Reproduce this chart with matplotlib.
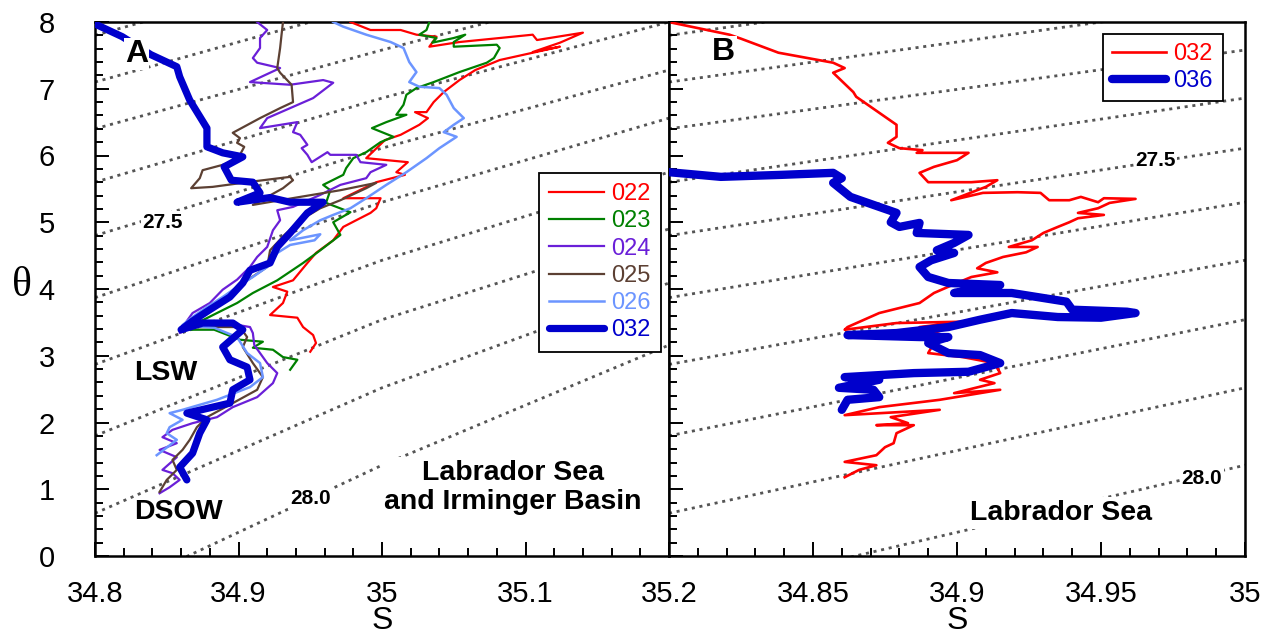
import numpy as np
import matplotlib.pyplot as plt
from matplotlib.ticker import MultipleLocator

# theta-S profiles
# panel A: Labrador Sea and Irminger Basin
s_022 = [34.978, 34.992, 35.013, 35.024, 35.038, 35.033, 35.054, 35.082, 35.105, 35.108, 35.140, 35.124,
         35.105, 35.124, 35.082, 35.065, 35.054, 35.043, 35.036, 35.031, 35.023, 35.032, 35.026, 35.013,
         35.002, 34.989, 35.018, 35.010, 35.016, 34.996, 34.973, 34.999, 34.996, 34.992, 34.982, 34.973,
         34.966, 34.954, 34.948, 34.938, 34.924, 34.934, 34.931, 34.922, 34.941, 34.945, 34.952, 34.954, 34.950]
t_022 = [8.00, 7.88, 7.88, 7.81, 7.78, 7.63, 7.70, 7.76, 7.81, 7.73, 7.84, 7.69,
         7.55, 7.63, 7.43, 7.28, 7.13, 6.95, 6.80, 6.65, 6.65, 6.56, 6.46, 6.31,
         6.23, 5.96, 5.90, 5.75, 5.71, 5.60, 5.36, 5.36, 5.21, 5.14, 5.03, 4.93,
         4.73, 4.54, 4.39, 4.13, 4.03, 3.96, 3.79, 3.61, 3.57, 3.43, 3.31, 3.19, 3.06]

s_023 = [35.033, 35.031, 35.026, 35.038, 35.035, 35.050, 35.058, 35.050, 35.050, 35.080, 35.082, 35.078,
         35.073, 35.054, 35.036, 35.024, 35.017, 35.015, 35.010, 35.017, 35.003, 34.993, 35.008, 34.999,
         34.989, 34.980, 34.975, 34.973, 34.959, 34.964, 34.961, 34.978, 34.966, 34.971, 34.957, 34.945,
         34.927, 34.910, 34.899, 34.885, 34.873, 34.861, 34.883, 34.901, 34.917, 34.910, 34.924, 34.931,
         34.941, 34.936]
t_023 = [8.00, 7.88, 7.81, 7.76, 7.69, 7.76, 7.81, 7.70, 7.63, 7.66, 7.61, 7.46,
         7.39, 7.25, 7.10, 7.01, 6.91, 6.76, 6.61, 6.61, 6.50, 6.41, 6.28, 6.20,
         6.05, 5.96, 5.81, 5.71, 5.56, 5.48, 5.29, 5.15, 5.00, 4.81, 4.58, 4.39,
         4.13, 3.94, 3.79, 3.64, 3.51, 3.39, 3.39, 3.24, 3.21, 3.12, 3.09, 2.98,
         2.94, 2.79]

s_024 = [34.913, 34.920, 34.915, 34.915, 34.910, 34.913, 34.929, 34.908, 34.936, 34.959, 34.966, 34.952,
         34.936, 34.920, 34.915, 34.941, 34.938, 34.943, 34.948, 34.944, 34.948, 34.951, 34.962, 34.964,
         34.982, 34.985, 35.003, 34.992, 34.989, 34.971, 34.957, 34.938, 34.927, 34.929, 34.924, 34.920,
         34.913, 34.908, 34.899, 34.889, 34.880, 34.868, 34.861, 34.859, 34.875, 34.892, 34.908, 34.910,
         34.911, 34.920, 34.927, 34.924, 34.913, 34.896, 34.885, 34.868, 34.854, 34.847, 34.857, 34.845,
         34.857, 34.847, 34.854, 34.859, 34.852, 34.845]
t_024 = [8.00, 7.88, 7.76, 7.61, 7.46, 7.39, 7.31, 7.10, 7.06, 7.13, 7.09, 6.86,
         6.71, 6.56, 6.41, 6.50, 6.35, 6.31, 6.16, 6.11, 6.01, 5.90, 6.05, 6.01,
         6.01, 5.90, 5.86, 5.75, 5.66, 5.56, 5.41, 5.23, 5.18, 5.03, 4.88, 4.63,
         4.48, 4.33, 4.14, 3.99, 3.79, 3.64, 3.43, 3.34, 3.49, 3.49, 3.43, 3.34,
         3.16, 2.89, 2.74, 2.59, 2.38, 2.23, 2.08, 1.99, 1.89, 1.78, 1.69, 1.59,
         1.48, 1.29, 1.24, 1.14, 1.03, 0.94]

s_025 = [34.931, 34.930, 34.929, 34.927, 34.929, 34.937, 34.938, 34.929, 34.915, 34.896, 34.901, 34.899,
         34.904, 34.901, 34.894, 34.889, 34.875, 34.873, 34.867, 34.882, 34.906, 34.936, 34.938, 34.931,
         34.910, 34.943, 34.971, 34.996, 34.989, 34.971, 34.957, 34.943, 34.932, 34.922, 34.920, 34.899,
         34.885, 34.871, 34.861, 34.885, 34.901, 34.906, 34.903, 34.910, 34.917, 34.913, 34.896, 34.878,
         34.871, 34.866, 34.861, 34.854, 34.857, 34.850, 34.845]
t_025 = [8.00, 7.81, 7.61, 7.31, 7.24, 7.06, 6.80, 6.71, 6.56, 6.34, 6.26, 6.19,
         6.13, 6.01, 5.90, 5.86, 5.78, 5.66, 5.51, 5.53, 5.60, 5.68, 5.63, 5.51,
         5.26, 5.38, 5.48, 5.59, 5.51, 5.33, 5.21, 5.03, 4.81, 4.58, 4.33, 4.03,
         3.79, 3.58, 3.43, 3.43, 3.43, 3.28, 3.13, 2.89, 2.68, 2.49, 2.29, 2.08,
         1.93, 1.74, 1.59, 1.44, 1.29, 1.14, 0.96]

s_026 = [34.966, 34.973, 34.989, 35.006, 35.015, 35.019, 35.024, 35.019, 35.026, 35.040, 35.045, 35.050,
         35.057, 35.050, 35.043, 35.052, 35.040, 35.031, 35.017, 35.003, 34.989, 34.978, 34.966, 34.957,
         34.945, 34.936, 34.957, 34.953, 34.936, 34.927, 34.920, 34.910, 34.899, 34.889, 34.878, 34.868,
         34.861, 34.883, 34.899, 34.906, 34.915, 34.917, 34.908, 34.885, 34.861, 34.852, 34.861, 34.852,
         34.850, 34.857, 34.843]
t_026 = [8.00, 7.93, 7.81, 7.70, 7.61, 7.40, 7.25, 7.10, 7.03, 7.01, 6.91, 6.71,
         6.56, 6.46, 6.35, 6.28, 6.11, 5.96, 5.75, 5.56, 5.36, 5.21, 5.11, 5.03,
         4.88, 4.73, 4.82, 4.73, 4.66, 4.54, 4.33, 4.18, 4.03, 3.88, 3.73, 3.58,
         3.46, 3.42, 3.28, 3.04, 2.89, 2.68, 2.53, 2.34, 2.19, 2.14, 2.04, 1.93,
         1.84, 1.74, 1.51]

s_032a = [34.800, 34.819, 34.839, 34.857, 34.859, 34.866, 34.878, 34.878, 34.889, 34.903, 34.890, 34.895,
          34.910, 34.915, 34.899, 34.922, 34.936, 34.959, 34.948, 34.936, 34.927, 34.922, 34.908, 34.903,
          34.894, 34.880, 34.868, 34.860, 34.875, 34.896, 34.903, 34.889, 34.894, 34.906, 34.908, 34.896,
          34.894, 34.864, 34.878, 34.873, 34.868, 34.859, 34.864]
t_032a = [7.97, 7.78, 7.51, 7.33, 7.18, 6.83, 6.41, 6.13, 6.04, 5.98, 5.83, 5.63,
          5.60, 5.44, 5.30, 5.37, 5.30, 5.30, 5.14, 4.84, 4.63, 4.39, 4.28, 4.09,
          3.88, 3.69, 3.52, 3.39, 3.49, 3.49, 3.39, 3.13, 2.94, 2.83, 2.64, 2.49,
          2.29, 2.14, 2.04, 1.84, 1.54, 1.33, 1.14]

# panel B: Labrador Sea
s_032b = [34.801, 34.821, 34.825, 34.838, 34.857, 34.861, 34.857, 34.864, 34.865, 34.879, 34.879, 34.876,
          34.880, 34.888, 34.886, 34.904, 34.900, 34.892, 34.887, 34.890, 34.905, 34.914, 34.910, 34.898,
          34.909, 34.921, 34.929, 34.932, 34.939, 34.943, 34.949, 34.951, 34.962, 34.953, 34.949, 34.942,
          34.951, 34.942, 34.939, 34.935, 34.930, 34.926, 34.918, 34.928, 34.924, 34.916, 34.910, 34.907,
          34.914, 34.905, 34.900, 34.892, 34.887, 34.873, 34.862, 34.861, 34.879, 34.902, 34.887, 34.897,
          34.892, 34.890, 34.902, 34.913, 34.915, 34.908, 34.913, 34.899, 34.915, 34.894, 34.873, 34.861,
          34.894, 34.877, 34.883, 34.872, 34.885, 34.879, 34.878, 34.875, 34.872, 34.861, 34.872, 34.866,
          34.861]
t_032b = [7.99, 7.81, 7.75, 7.54, 7.39, 7.31, 7.24, 6.95, 6.88, 6.46, 6.28, 6.19,
          6.11, 6.08, 6.04, 6.04, 5.93, 5.83, 5.74, 5.60, 5.60, 5.63, 5.53, 5.33,
          5.44, 5.45, 5.44, 5.33, 5.33, 5.38, 5.30, 5.36, 5.35, 5.29, 5.21, 5.14,
          5.11, 5.06, 5.00, 4.93, 4.84, 4.73, 4.63, 4.63, 4.55, 4.48, 4.39, 4.31,
          4.25, 4.18, 4.09, 3.94, 3.79, 3.64, 3.43, 3.39, 3.49, 3.51, 3.43, 3.28,
          3.19, 3.04, 2.98, 2.89, 2.74, 2.64, 2.59, 2.44, 2.49, 2.34, 2.23, 2.11,
          2.19, 2.08, 1.99, 1.96, 1.96, 1.84, 1.69, 1.63, 1.51, 1.41, 1.36, 1.29,
          1.18]

s_036 = [34.800, 34.818, 34.839, 34.857, 34.860, 34.857, 34.863, 34.873, 34.879, 34.877, 34.880, 34.887,
         34.886, 34.904, 34.899, 34.893, 34.899, 34.891, 34.887, 34.890, 34.897, 34.915, 34.899, 34.919,
         34.938, 34.940, 34.959, 34.962, 34.950, 34.935, 34.919, 34.908, 34.897, 34.879, 34.862, 34.887,
         34.897, 34.890, 34.897, 34.908, 34.915, 34.904, 34.885, 34.861, 34.873, 34.859, 34.871, 34.873,
         34.862, 34.860]
t_036 = [5.75, 5.68, 5.71, 5.74, 5.66, 5.59, 5.38, 5.23, 5.14, 5.00, 4.93, 4.99,
         4.84, 4.81, 4.69, 4.58, 4.54, 4.43, 4.33, 4.18, 4.09, 4.06, 3.94, 3.94,
         3.81, 3.69, 3.66, 3.64, 3.57, 3.58, 3.64, 3.54, 3.43, 3.34, 3.31, 3.28,
         3.28, 3.19, 3.04, 3.01, 2.89, 2.76, 2.74, 2.68, 2.64, 2.52, 2.49, 2.38,
         2.34, 2.19]

# isopycnals (sigma-theta 27.1 ... 28.0), theta where each crosses S = 34.8, 35.0, 35.2
iso_s = [34.8, 35.0, 35.2]
iso_levels = [27.1, 27.2, 27.3, 27.4, 27.5, 27.6, 27.7, 27.8, 27.9, 28.0]
iso_t348 = [7.80, 7.10, 6.40, 5.60, 4.80, 3.87, 2.87, 1.80, 0.64, -0.65]
iso_t350 = [9.00, 8.30, 7.58, 6.86, 6.11, 5.30, 4.43, 3.54, 2.52, 1.36]
iso_t352 = [10.1, 9.40, 8.70, 8.00, 7.28, 6.56, 5.75, 4.90, 4.09, 3.16]

plt.rcParams['font.family'] = ['Liberation Sans Narrow', 'Liberation Sans', 'DejaVu Sans']

fig = plt.figure(figsize=(12.73, 6.42), dpi=100)
axA = fig.add_axes([95 / 1273, 86 / 642, 574 / 1273, 534 / 642])
axB = fig.add_axes([669 / 1273, 86 / 642, 576 / 1273, 534 / 642])

dot_col = '#555555'
bold = dict(fontweight='bold', color='black', family=['Liberation Sans', 'DejaVu Sans'])
wbox = dict(facecolor='white', edgecolor='none', pad=1)

for ax, xlo, xhi in [(axA, 34.8, 35.2), (axB, 34.8, 35.0)]:
    for k in range(len(iso_levels)):
        ax.plot(iso_s, [iso_t348[k], iso_t350[k], iso_t352[k]], color=dot_col, lw=2,
                linestyle=(0, (1.1, 1.7)), zorder=1)
    ax.set_xlim(xlo, xhi)
    ax.set_ylim(0, 8)
    ax.yaxis.set_major_locator(MultipleLocator(1))
    ax.yaxis.set_minor_locator(MultipleLocator(0.2))
    ax.tick_params(which='both', direction='in', top=False, right=False, width=1.4)
    ax.tick_params(which='major', length=10, labelsize=21)
    ax.tick_params(axis='x', which='major', pad=17)
    ax.tick_params(axis='y', which='major', pad=29)
    ax.tick_params(which='minor', length=6)
    for sp in ax.spines.values():
        sp.set_linewidth(1.8)
    ax.set_xlabel('S', fontsize=23, labelpad=-1)

# panel A
axA.plot(s_022, t_022, color='#ff0000', lw=1.6, label='022', zorder=3)
axA.plot(s_023, t_023, color='#008000', lw=1.6, label='023', zorder=3)
axA.plot(s_024, t_024, color='#6a1fd8', lw=1.6, label='024', zorder=3)
axA.plot(s_025, t_025, color='#5c4033', lw=1.6, label='025', zorder=3)
axA.plot(s_026, t_026, color='#6c95ff', lw=1.8, label='026', zorder=3)
axA.plot(s_032a, t_032a, color='#0000cc', lw=5.2, label='032', zorder=4,
         solid_joinstyle='round', solid_capstyle='round')
axA.xaxis.set_minor_locator(MultipleLocator(0.02))
axA.set_xticks([34.8, 34.9, 35.0, 35.1, 35.2])
axA.set_xticklabels(['34.8', '34.9', '35', '35.1', '35.2'])
axA.set_ylabel('θ', fontsize=30, rotation=0, family=['Liberation Serif', 'DejaVu Serif'])
axA.yaxis.set_label_coords(-0.128, 0.47)
legA = axA.legend(loc='upper left', bbox_to_anchor=(0.773, 0.718), fontsize=17,
                  labelcolor='linecolor', fancybox=False, edgecolor='black',
                  handlelength=2.3, handletextpad=0.3, borderpad=0.45, labelspacing=0.22,
                  framealpha=1, borderaxespad=0)
legA.get_frame().set_linewidth(1.3)
legA.set_zorder(6)

axA.text(34.829, 7.52, 'A', fontsize=23, ha='center', va='center', bbox=wbox, zorder=5, **bold)
axA.text(34.847, 5.0, '27.5', fontsize=15, ha='center', va='center', bbox=wbox, zorder=5, **bold)
axA.text(34.950, 0.86, '28.0', fontsize=15, ha='center', va='center', bbox=wbox, zorder=5, **bold)
axA.text(34.849, 2.74, 'LSW', fontsize=20.5, ha='center', va='center', zorder=5, **bold)
axA.text(34.858, 0.66, 'DSOW', fontsize=20.5, ha='center', va='center', zorder=5, **bold)
axA.text(35.091, 1.03, 'Labrador Sea\nand Irminger Basin', fontsize=20.5, ha='center', va='center',
         linespacing=1.15, bbox=dict(facecolor='white', edgecolor='none', pad=2), zorder=5, **bold)

# panel B
axB.plot(s_032b, t_032b, color='#ff0000', lw=1.9, label='032', zorder=3)
axB.plot(s_036, t_036, color='#0000cc', lw=6, label='036', zorder=4,
         solid_joinstyle='round', solid_capstyle='round')
axB.xaxis.set_minor_locator(MultipleLocator(0.01))
axB.set_xticks([34.8, 34.85, 34.9, 34.95, 35.0])
axB.set_xticklabels(['', '34.85', '34.9', '34.95', '35'])
axB.tick_params(axis='y', labelleft=False)
legB = axB.legend(loc='upper left', bbox_to_anchor=(0.753, 0.978), fontsize=17,
                  labelcolor='linecolor', fancybox=False, edgecolor='black',
                  handlelength=2.3, handletextpad=0.3, borderpad=0.4, labelspacing=0.2,
                  framealpha=1, borderaxespad=0)
legB.get_frame().set_linewidth(1.3)
legB.set_zorder(6)

axB.text(34.819, 7.55, 'B', fontsize=23, ha='center', va='center', bbox=wbox, zorder=5, **bold)
axB.text(34.969, 5.93, '27.5', fontsize=15, ha='center', va='center', bbox=wbox, zorder=5, **bold)
axB.text(34.985, 1.16, '28.0', fontsize=15, ha='center', va='center', bbox=wbox, zorder=5, **bold)
axB.text(34.936, 0.64, 'Labrador Sea', fontsize=20.5, ha='center', va='center',
         bbox=dict(facecolor='white', edgecolor='none', pad=2), zorder=5, **bold)

fig.savefig('out.png', dpi=100)
